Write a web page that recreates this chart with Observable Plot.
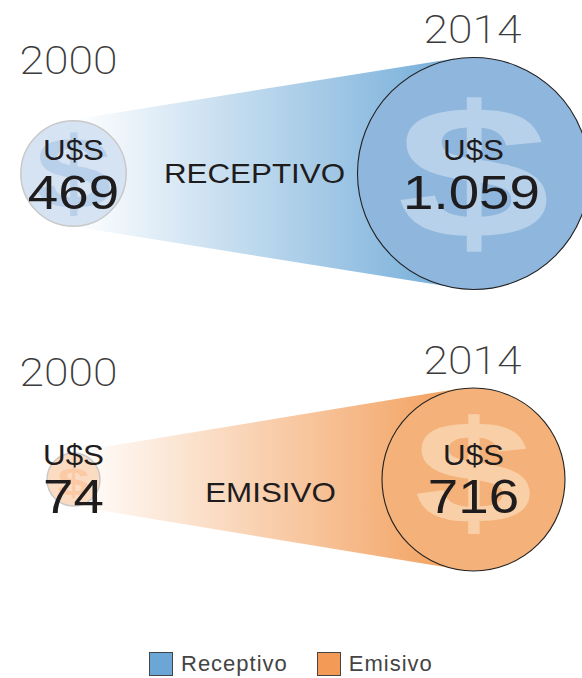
<!DOCTYPE html>
<html lang="es">
<head>
<meta charset="utf-8">
<script src="https://cdn.jsdelivr.net/npm/d3@7"></script>
<script src="https://cdn.jsdelivr.net/npm/@observablehq/plot@0.6"></script>
<style>
html,body{margin:0;padding:0;background:#fff;overflow:hidden}
#legend{display:flex;align-items:center;height:33px;padding-top:5px;font:400 22px "Liberation Sans",sans-serif;color:#444;padding-left:149px;box-sizing:border-box}
#legend span.sw{display:inline-block;width:22px;height:22px;border:1px solid #444;margin-right:8px}
#legend span.lb{margin-right:29px;letter-spacing:1px}
</style>
</head>
<body>
<div id="chart"></div>
<div id="legend"></div>
<script>
const years = [2000, 2014];
const panels = ["Receptivo", "Emisivo"];
const panelTitles = ["RECEPTIVO", "EMISIVO"];
const receptivoValues = [469, 1059];
const emisivoValues = [74, 716];
const legendColors = ["#6ca6d6", "#f49a57"];

const rows = [
  ...years.map((year, i) => ({year, panel: panels[0], value: receptivoValues[i]})),
  ...years.map((year, i) => ({year, panel: panels[1], value: emisivoValues[i]}))
];
const fmt = d3.formatLocale({decimal: ",", thousands: ".", grouping: [3], currency: ["$", ""]}).format(",");
const sans = "'Liberation Sans', Arial, sans-serif";
const light = "Roboto, 'Liberation Sans', sans-serif";
const circleFill = {Receptivo: ["#d6e3f2", "#8fb6dd"], Emisivo: ["#fbdcc3", "#f4b27a"]};
const dollarFill = {Receptivo: ["#b9d0ea", "#b8d1ea"], Emisivo: ["#fbc9a3", "#f8cfa6"]};
const gradEnd = {Receptivo: "#7eb3dc", Emisivo: "#f3a566"};
// dollar glyph: size relative to the circle radius, horizontal stretch, vertical shift
const dollarShape = {469: [1.92, 1.36, 2.4], 1059: [1.63, 1.46, 3.6], 74: [1.38, 1.56, 3.3], 716: [1.61, 1.45, -3.2]};

// Tapered band between the two circles of a panel, from the plot's own scales
function band(index, scales) {
  const g = d3.create("svg:g");
  const defs = g.append("defs");
  panels.forEach((p, k) => {
    const [a, b] = rows.filter(d => d.panel === p);
    const x0 = scales.x(a.year), x1 = scales.x(b.year), y = scales.y(p);
    const r0 = scales.r(a.value), r1 = scales.r(b.value);
    const s = (r1 - r0) / (x1 - x0), c = Math.sqrt(1 - s * s);
    const id = "grad" + k;
    const lg = defs.append("linearGradient").attr("id", id).attr("gradientUnits", "userSpaceOnUse")
      .attr("x1", x0).attr("x2", x1 - r1 * 0.4).attr("y1", 0).attr("y2", 0);
    lg.append("stop").attr("offset", 0).attr("stop-color", "#fff");
    lg.append("stop").attr("offset", 1).attr("stop-color", gradEnd[p]);
    const path = d3.path();
    path.moveTo(x0 - r0 * s, y - r0 * c);
    path.lineTo(x1 - r1 * s, y - r1 * c);
    path.lineTo(x1 - r1 * s, y + r1 * c);
    path.lineTo(x0 - r0 * s, y + r0 * c);
    path.closePath();
    g.append("path").attr("d", path.toString()).attr("fill", `url(#${id})`);
  });
  return g.node();
}

function stretched(sx) {
  return function (index, scales, values, dims, ctx, next) {
    const g = next(index, scales, values, dims, ctx);
    g.querySelectorAll("text").forEach(t => t.setAttribute("transform", t.getAttribute("transform") + ` scale(${sx},1)`));
    return g;
  };
}

function dollars(index, scales, values, dims, ctx, next) {
  const g = next(index, scales, values, dims, ctx);
  g.querySelectorAll("text").forEach((t, i) => {
    const d = rows[index[i]];
    const [k, sx, shift] = dollarShape[d.value];
    t.setAttribute("font-size", scales.r(d.value) * k);
    t.setAttribute("transform", t.getAttribute("transform") + ` translate(0,${shift}) scale(${sx},1)`);
  });
  return g;
}

function label(text, year, panel, dx, dy, size, opts = {}) {
  return Plot.text([{year, panel}], {
    x: "year", y: "panel", text: () => text, dx, dy,
    fontSize: size, fontFamily: opts.family || sans, fontWeight: opts.weight || 400,
    fill: opts.fill || "#1f1c1e", textAnchor: "middle", lineAnchor: "middle",
    render: stretched(opts.sx ?? 1)
  });
}

const yearStyle = {family: light, weight: 200, fill: "#3b3b3b", sx: 1.17};
const usdStyle = {sx: 1.08};
const numStyle = {sx: 1.14};
const titleStyle = {sx: 1.12};

const chart = Plot.plot({
  width: 582,
  height: 645,
  margin: 0,
  x: {type: "linear", domain: years, range: [73, 473], axis: null},
  y: {type: "point", domain: panels, range: [173, 479], padding: 0, axis: null},
  r: {type: "linear", domain: [74, 469, 716, 1059], range: [26.5, 52.7, 91.5, 116]},
  style: {background: "#fff", overflow: "hidden"},
  marks: [
    band,
    Plot.dot(rows, {
      x: "year", y: "panel", r: "value",
      fill: d => circleFill[d.panel][years.indexOf(d.year)],
      stroke: d => d.year === years[1] ? "#222" : "#c9c9c9",
      strokeWidth: d => d.year === years[1] ? 1.1 : 1.5
    }),
    Plot.text(rows, {
      x: "year", y: "panel", text: () => "$",
      fill: d => dollarFill[d.panel][years.indexOf(d.year)],
      fontFamily: sans, fontWeight: 700, textAnchor: "middle", lineAnchor: "middle",
      render: dollars
    }),
    label("2000", 2000, "Receptivo", -5, -112, 38, yearStyle),
    label("2014", 2014, "Receptivo", -1, -143, 38, yearStyle),
    label("2000", 2000, "Emisivo", -5, -106, 38, yearStyle),
    label("2014", 2014, "Emisivo", -1, -118, 38, yearStyle),
    label(panelTitles[0], 2007, "Receptivo", -19, 1, 28, titleStyle),
    label(panelTitles[1], 2007, "Emisivo", -3, 14, 28, titleStyle),
    ...rows.flatMap(d => {
      const top = d.panel === "Receptivo";
      return [
        label("U$S", d.year, d.panel, 0, top ? -23 : -24, 29, usdStyle),
        label(fmt(d.value), d.year, d.panel, d.value === 1059 ? -2 : 0, top ? 20 : 18.5, 48, numStyle)
      ];
    })
  ]
});
document.getElementById("chart").append(chart);

const legend = d3.select("#legend");
panels.forEach((p, i) => {
  legend.append("span").attr("class", "sw").style("background", legendColors[i]);
  legend.append("span").attr("class", "lb").text(p);
});
</script>
</body>
</html>
